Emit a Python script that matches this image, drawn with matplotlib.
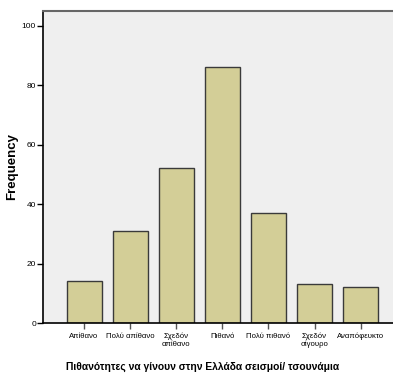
import numpy as np
import matplotlib
matplotlib.use("Agg")
import matplotlib.pyplot as plt

categories = ["Απίθανο", "Πολύ απίθανο", "Σχεδόν\nαπίθανο", "Πιθανό",
              "Πολύ πιθανό", "Σχεδόν\nσίγουρο", "Αναπόφευκτο"]
frequencies = [14, 31, 52, 86, 37, 13, 12]
y_ticks = [0, 20, 40, 60, 80, 100]

plt.rcParams['font.family'] = ['Liberation Sans Narrow', 'Liberation Sans', 'DejaVu Sans']

fig = plt.figure(figsize=(3.93, 3.74), dpi=100)
W, H = 393, 374
ax = fig.add_axes([43 / W, 1 - 323 / H, (W - 43) / W, (323 - 11) / H])
ax.set_facecolor('#efefef')

x = np.arange(len(categories))
ax.bar(x, frequencies, width=0.76, color='#d3ce97', edgecolor='#3a3a3a', linewidth=1.0, zorder=2)

ax.set_xlim(-0.89, 6.70)
ax.set_ylim(0, 105)
ax.set_yticks(y_ticks)
ax.set_xticks(x)
ax.set_xticklabels(categories, fontsize=5.6, linespacing=1.1)
ax.tick_params(axis='y', labelsize=6, length=4, width=1, pad=1)
ax.tick_params(axis='x', length=4, width=1, pad=3, color='#555555')

for s in ['left', 'bottom']:
    ax.spines[s].set_color('black')
    ax.spines[s].set_linewidth(1.2)
ax.spines['top'].set_color('#666666')
ax.spines['top'].set_linewidth(1.5)
ax.spines['right'].set_visible(False)

ax.set_ylabel('Frequency', fontsize=9.5, fontweight='bold')
ax.yaxis.set_label_coords(-0.072, 0.5)
fig.text(203 / W, 1 - 367 / H, 'Πιθανότητες να γίνουν στην Ελλάδα σεισμοί/ τσουνάμια',
         ha='center', va='center', fontsize=7.4, fontweight='bold')

fig.savefig('out.png', dpi=100)
